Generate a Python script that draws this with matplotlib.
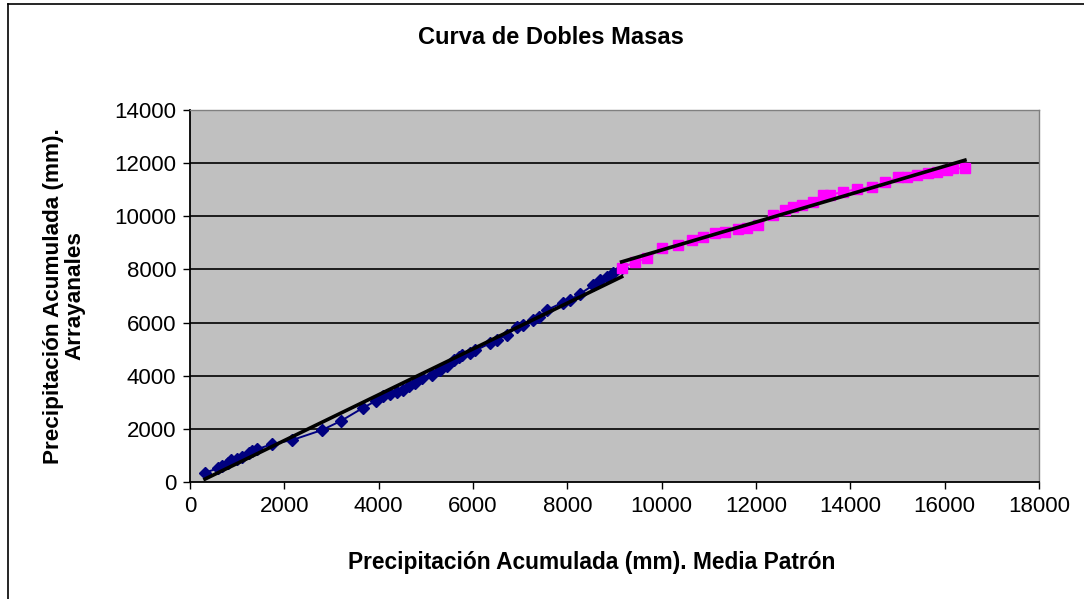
#!/usr/bin/env python3
# doble_masa_plot.py
import numpy as np
import matplotlib.pyplot as plt
from matplotlib.lines import Line2D

plt.rcParams['font.family'] = ['Liberation Sans', 'DejaVu Sans']

# ----------------------------- Data -----------------------------
# accumulated precipitation (mm): x = media patron, y = Arrayanales
blue_x = [318, 600, 685, 800, 869, 1000, 1096, 1250, 1321, 1420, 1745, 2169,
          2805, 3201, 3668, 3950, 4099, 4250, 4380, 4523, 4650, 4780, 4911,
          5124, 5300, 5442, 5600, 5700, 5760, 5936, 6050, 6360, 6500, 6714,
          6926, 7066, 7278, 7400, 7562, 7900, 8056, 8268, 8550, 8700, 8833,
          8974, 9151]
blue_y = [350, 520, 600, 720, 830, 870, 950, 1100, 1180, 1230, 1430, 1580,
          1960, 2300, 2790, 3060, 3240, 3320, 3400, 3460, 3600, 3740, 3900,
          4030, 4200, 4380, 4600, 4700, 4780, 4850, 4950, 5220, 5350, 5530,
          5820, 5910, 6100, 6200, 6470, 6750, 6850, 7080, 7410, 7600, 7730,
          7850, 8041]

mag_x = [9151, 9434, 9681, 9999, 10352, 10636, 10882, 11130, 11342, 11624,
         11802, 12048, 12366, 12614, 12790, 12968, 13214, 13426, 13568, 13850,
         14134, 14452, 14734, 15016, 15194, 15406, 15654, 15830, 16042, 16182,
         16430]
mag_y = [8041, 8290, 8418, 8794, 8918, 9106, 9230, 9358, 9419, 9509,
         9546, 9671, 10047, 10235, 10359, 10424, 10548, 10800, 10800, 10924,
         11014, 11112, 11278, 11466, 11488, 11552, 11616, 11677, 11741, 11805,
         11805]

x_ticks = np.arange(0, 18001, 2000)
y_ticks = np.arange(0, 14001, 2000)

W, H = 1084, 599

# ----------------------------- Plot -----------------------------
fig = plt.figure(figsize=(W / 100, H / 100), dpi=100)
ax = fig.add_axes([190 / W, 1 - 482 / H, (1039 - 190) / W, (482 - 110) / H])
ax.set_facecolor('#C0C0C0')

for y in y_ticks[1:-1]:
    ax.axhline(y, color='black', lw=1.2, zorder=1)

ax.plot(blue_x, blue_y, color='#000080', lw=1.4, marker='D', ms=6.5,
        mfc='#000080', mec='#000080', zorder=3)
ax.plot(mag_x, mag_y, color='#FF00FF', lw=1.4, marker='s', ms=7,
        mfc='#FF00FF', mec='#FF00FF', zorder=3)

# linear trend lines, one per period
for xs, ys in ((blue_x, blue_y), (mag_x, mag_y)):
    m, b = np.polyfit(xs, ys, 1)
    xx = np.array([min(xs), max(xs)])
    ax.plot(xx, m * xx + b, color='black', lw=2.6, zorder=4)

ax.set_xlim(0, 18000)
ax.set_ylim(0, 14000)
ax.set_xticks(x_ticks)
ax.set_yticks(y_ticks)
ax.tick_params(direction='out', length=5, width=1, labelsize=16, pad=5,
               colors='black')
for s in ('top', 'right'):
    ax.spines[s].set_color('#808080')
    ax.spines[s].set_linewidth(1.0)
for s in ('left', 'bottom'):
    ax.spines[s].set_color('black')
    ax.spines[s].set_linewidth(1.3)

fig.text(551 / W, 1 - 37 / H, 'Curva de Dobles Masas', ha='center',
         va='center', fontsize=17, fontweight='bold')
fig.text(592 / W, 1 - 562 / H, 'Precipitación Acumulada (mm). Media Patrón',
         ha='center', va='center', fontsize=16.4, fontweight='bold')
fig.text(64 / W, 1 - 296 / H, 'Precipitación Acumulada (mm).\nArrayanales',
         ha='center', va='center', rotation=90, fontsize=16.2,
         fontweight='bold', multialignment='center', linespacing=1.0)

# chart frame (only left and top edges visible)
fig.add_artist(Line2D([7.5 / W, 7.5 / W], [0, 1 - 3.5 / H], color='black', lw=1.2))
fig.add_artist(Line2D([7.5 / W, 1], [1 - 3.5 / H, 1 - 3.5 / H], color='black', lw=1.2))

fig.savefig('out.png', dpi=100)
